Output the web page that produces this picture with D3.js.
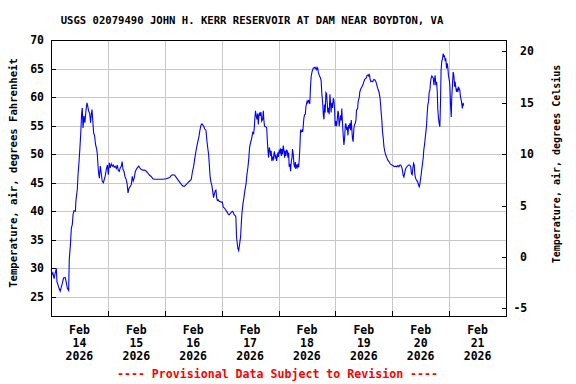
<!DOCTYPE html>
<html><head><meta charset="utf-8">
<script src="https://cdn.jsdelivr.net/npm/d3@7"></script>
<style>
body{margin:0;background:#fff}
svg{display:block}
text{font-family:"DejaVu Sans Mono","Liberation Mono",monospace;font-weight:bold;fill:#000}
</style>
</head><body><svg id="c" width="576" height="384"></svg>
<script>
const title = "USGS 02079490 JOHN H. KERR RESERVOIR AT DAM NEAR BOYDTON, VA";
const yLabelLeft = "Temperature, air, degrees Fahrenheit";
const yLabelRight = "Temperature, air, degrees Celsius";
const footnote = "---- Provisional Data Subject to Revision ----";
const monthLabel = "Feb";
const yearLabel = "2026";
const dayLabels = ["14","15","16","17","18","19","20","21"];
const fTicks = [25,30,35,40,45,50,55,60,65,70];
const cTicks = [-5,0,5,10,15,20];

// [hours since 2026-02-14 00:00, temperature °F]
const day1 = [[0.1,29.8],[0.4,28.9],[0.8,29.2],[1.3,28.2],[1.8,29.2],[2.25,30.0],[2.5,27.7],[2.95,27.1],[3.4,26.5],[3.9,26.0],[4.4,26.8],[4.8,27.4],[5.3,28.3],[6.0,28.4],[6.5,27.4],[6.9,26.5],[7.45,26.1],[7.7,31.5],[8.2,34.2],[8.6,37.1],[9.0,37.7],[9.3,39.4],[9.7,40.1],[10.3,40.0],[10.5,41.8],[11.1,43.8],[11.4,46.4],[11.8,48.5],[12.2,51.1],[12.6,54.0],[12.9,57.0],[13.2,58.1],[13.5,54.6],[13.9,56.7],[14.3,55.5],[14.8,57.8],[15.2,59.0],[15.5,58.4],[15.9,57.5],[16.3,57.2],[16.7,55.5],[17.0,57.0],[17.3,57.8],[17.7,55.5],[18.0,53.7],[18.4,53.2],[18.8,51.7],[19.3,50.8],[19.5,50.2],[20.0,47.0],[20.4,45.8],[20.8,47.9],[21.2,46.7],[21.6,45.3],[22.1,45.0],[22.5,45.6],[22.9,46.2],[23.3,47.3],[23.8,48.1]];
const day2 = [[24.2,46.4],[24.6,48.5],[25.0,47.6],[25.45,48.3],[25.9,47.9],[26.3,48.1],[26.7,47.7],[27.1,47.9],[27.6,47.5],[28.0,48.1],[28.4,47.1],[28.8,47.0],[29.2,47.6],[29.7,47.9],[30.0,48.7],[30.4,47.3],[30.8,47.0],[31.2,46.1],[31.6,45.7],[32.1,44.9],[32.5,43.2],[32.9,44.0],[33.5,44.4],[33.9,44.7],[34.3,46.1],[34.7,45.3],[35.1,45.8],[35.6,47.0],[36.0,47.3],[36.4,47.6],[37.0,47.9],[37.5,47.6],[38.1,47.3],[38.8,47.2],[39.5,47.2],[40.2,47.0],[40.9,46.7],[41.6,46.3],[42.3,46.1],[43.0,45.7],[43.7,45.6],[45.1,45.6],[47.2,45.6]];
const day3 = [[48.6,45.7],[50.1,45.9],[50.8,46.3],[51.5,46.4],[52.2,46.3],[52.9,45.9],[53.6,45.5],[54.3,45.1],[55.0,44.7],[55.7,44.4],[56.4,44.4],[57.1,44.7],[57.8,45.0],[58.5,45.3],[59.2,45.6],[59.6,46.7],[60.2,47.9],[60.6,49.1],[61.2,50.6],[61.6,51.5],[62.0,52.3],[62.4,53.0],[62.8,54.1],[63.3,55.1],[63.7,55.3],[64.1,55.1],[64.5,54.8],[64.9,54.4],[65.4,54.2],[65.8,52.3],[66.2,50.9],[66.5,50.0],[66.8,48.3],[67.1,46.2],[67.5,45.1],[67.9,44.5],[68.3,43.3],[68.6,42.4],[68.9,43.0],[69.3,43.6],[69.6,43.7],[69.9,42.4],[70.2,41.9],[70.6,42.0],[71.0,41.7],[71.4,41.7],[71.8,41.6]];
const day4 = [[72.3,41.6],[72.7,40.7],[73.1,40.6],[73.5,40.4],[73.9,40.1],[74.4,39.8],[74.8,39.5],[75.2,39.4],[75.6,39.6],[76.1,39.8],[76.5,40.0],[76.9,39.8],[77.3,39.4],[77.8,39.2],[78.0,39.0],[78.3,35.5],[78.6,34.3],[78.9,33.4],[79.2,33.1],[79.4,33.7],[79.7,34.6],[80.0,35.5],[80.3,37.8],[80.6,39.8],[81.0,41.3],[81.4,42.4],[81.8,43.6],[82.3,44.8],[82.7,46.5],[83.1,47.7],[83.5,49.4],[83.8,51.2],[84.2,52.0],[84.6,52.6],[85.1,53.8],[85.5,53.6],[85.8,54.7],[86.0,56.1],[86.3,57.6],[86.6,56.7],[86.9,56.1],[87.2,57.1],[87.5,55.2],[87.7,56.7],[88.0,57.3],[88.3,56.7],[88.6,57.4],[88.9,55.8],[89.3,56.1],[89.6,57.6],[89.8,56.1],[90.1,54.9],[90.5,54.8],[91.0,54.7],[91.3,52.3],[91.5,50.9],[91.8,49.4],[92.1,51.2],[92.4,50.6],[92.7,49.7],[92.9,50.6],[93.2,48.8],[93.5,49.4],[93.8,49.1],[94.1,50.1],[94.3,50.5],[94.6,49.4],[94.9,49.7],[95.2,48.8],[95.5,49.7],[95.8,50.3]];
const day5 = [[96.0,49.5],[96.3,50.6],[96.6,50.3],[96.9,51.0],[97.2,49.7],[97.4,50.9],[97.7,50.0],[98.0,51.5],[98.3,50.7],[98.6,49.4],[98.8,50.6],[99.1,49.7],[99.4,50.7],[99.7,50.6],[100.0,49.4],[100.3,50.3],[100.5,47.8],[100.8,48.3],[101.1,47.0],[101.4,48.8],[101.7,49.4],[101.9,50.9],[102.2,50.1],[102.5,48.3],[102.8,47.7],[103.1,48.6],[103.3,47.4],[103.6,48.0],[103.9,47.7],[104.2,48.3],[104.5,47.7],[104.7,48.8],[105.0,51.0],[105.3,54.1],[105.6,53.9],[105.9,54.2],[106.2,53.9],[106.4,54.7],[106.7,56.3],[107.0,56.9],[107.3,57.0],[107.6,58.4],[107.8,58.8],[108.1,59.3],[108.4,59.0],[108.7,59.4],[109.0,59.3],[109.2,58.8],[109.5,61.7],[109.8,63.7],[110.2,64.5],[110.6,65.0],[111.1,65.2],[111.5,65.0],[111.8,65.2],[112.1,64.8],[112.5,65.1],[112.9,64.2],[113.3,63.7],[113.7,63.4],[114.0,62.8],[114.3,60.5],[114.6,59.3],[114.9,57.0],[115.2,56.1],[115.4,58.7],[115.7,57.3],[116.0,60.8],[116.3,60.6],[116.6,58.7],[116.8,57.3],[117.1,58.1],[117.4,57.0],[117.7,60.5],[118.0,58.7],[118.2,57.3],[118.5,59.0],[118.8,58.1],[119.1,59.8],[119.4,59.4],[119.7,57.6]];
const day6 = [[119.9,54.9],[120.2,55.8],[120.5,54.9],[120.8,56.1],[121.1,57.6],[121.3,57.3],[121.6,54.9],[122.2,56.8],[122.5,55.9],[122.7,58.0],[123.0,55.4],[123.3,53.3],[123.6,51.6],[123.9,52.8],[124.2,55.1],[124.4,55.4],[124.7,54.5],[125.0,54.8],[125.3,53.3],[125.6,55.1],[125.8,54.5],[126.1,55.4],[126.4,54.2],[126.7,56.0],[127.0,54.0],[127.2,52.8],[127.5,52.2],[127.8,54.5],[128.1,55.2],[128.4,55.4],[128.7,56.0],[128.9,57.7],[129.4,58.0],[129.6,59.2],[130.1,60.0],[130.3,60.9],[130.8,61.5],[131.2,61.8],[131.6,62.1],[132.0,62.7],[132.4,63.1],[132.9,63.3],[133.1,63.4],[133.4,63.8],[133.9,63.9],[134.1,63.7],[134.4,63.9],[134.7,63.0],[135.0,62.7],[135.4,62.8],[135.8,62.7],[136.2,63.1],[136.7,63.0],[137.1,62.7],[137.5,62.1],[137.9,61.5],[138.4,60.9],[138.8,60.0],[139.1,58.6],[139.3,57.4],[139.6,56.0],[139.9,53.9],[140.2,52.8],[140.5,51.3],[140.9,50.4],[141.3,49.8],[141.7,49.4],[142.1,49.0],[142.6,48.7],[143.0,48.4],[143.4,48.2],[143.8,48.1]];
const day7 = [[144.3,48.0],[144.7,47.9],[145.1,47.8],[145.5,47.9],[145.9,47.8],[146.4,48.0],[146.8,47.8],[147.2,48.1],[147.6,48.1],[148.1,47.6],[148.3,47.2],[148.6,46.3],[148.9,46.0],[149.2,46.6],[149.5,47.2],[149.7,47.5],[150.2,47.8],[150.6,48.0],[151.0,48.1],[151.4,48.1],[151.8,47.8],[152.1,46.6],[152.4,46.4],[152.7,47.5],[153.0,48.4],[153.3,48.1],[153.5,46.6],[153.8,45.8],[154.2,45.5],[154.7,45.2],[155.1,44.6],[155.4,44.3],[155.6,44.6],[155.9,45.5],[156.2,46.4],[156.5,47.5],[156.8,48.4],[157.1,49.5],[157.3,50.7],[157.6,51.6],[157.9,52.8],[158.2,53.9],[158.5,55.1],[158.7,56.8],[159.0,58.6],[159.3,59.2],[159.6,60.9],[159.9,61.2],[160.1,62.4],[160.4,63.3],[160.7,63.7],[161.0,63.5],[161.3,63.3],[161.6,62.1],[161.8,63.0],[162.1,63.8],[162.4,62.1],[162.7,62.7],[163.0,60.9],[163.2,58.0],[163.5,56.3],[163.8,55.4],[164.1,54.8],[164.4,59.8],[164.6,64.7],[164.9,66.3],[165.2,66.7],[165.5,67.6],[165.8,67.0],[166.0,67.3],[166.3,66.5],[166.6,66.8],[166.9,65.0],[167.2,65.9],[167.5,65.0],[167.7,63.8]];
const day8 = [[168.0,63.2],[168.3,62.1],[168.6,58.6],[168.9,56.5],[169.1,59.8],[169.4,62.1],[169.7,64.4],[170.0,63.8],[170.3,61.8],[170.5,62.7],[170.8,61.8],[171.1,60.9],[171.4,61.5],[171.7,60.9],[171.9,61.8],[172.2,61.5],[172.5,61.2],[172.8,60.0],[173.1,59.5],[173.4,58.6],[173.6,58.0],[173.9,59.0],[174.1,58.5]];

const observations = [].concat(day1, day2, day3, day4, day5, day6, day7, day8);

const W = 576, H = 384;
const plot = {left: 51, right: 506, top: 40, bottom: 316};
const t0 = Date.UTC(2026, 1, 14);
const HOUR = 3600000;

const svg = d3.select("#c");
svg.append("rect").attr("width", W).attr("height", H).attr("fill", "#fff");

const x = d3.scaleUtc().domain([new Date(t0), new Date(t0 + 192 * HOUR)]).range([plot.left, plot.right]);
const y = d3.scaleLinear().domain([21.65, 70]).range([plot.bottom, plot.top]);
const yC = d3.scaleLinear().domain([(21.65 - 32) / 1.8, (70 - 32) / 1.8]).range([plot.bottom, plot.top]);

const dayBounds = d3.range(1, 8).map(d => new Date(t0 + d * 24 * HOUR));
const dayCenters = dayLabels.map((_, i) => new Date(t0 + (i * 24 + 12) * HOUR));

// grid
const grid = svg.append("g").attr("stroke", "#c8c8c8").attr("stroke-width", 1).attr("shape-rendering", "crispEdges");
grid.selectAll(".h").data(fTicks.filter(v => v < 70)).join("line")
  .attr("x1", plot.left).attr("x2", plot.right)
  .attr("y1", d => Math.round(y(d)) + 0.5).attr("y2", d => Math.round(y(d)) + 0.5);
grid.selectAll(".v").data(dayBounds).join("line")
  .attr("y1", plot.top).attr("y2", plot.bottom)
  .attr("x1", d => Math.round(x(d)) + 0.5).attr("x2", d => Math.round(x(d)) + 0.5);

// data line
const line = d3.line().x(d => x(new Date(t0 + d[0] * HOUR))).y(d => y(d[1]));
svg.append("path").datum(observations)
  .attr("d", line).attr("fill", "none").attr("stroke", "#0000ff").attr("stroke-width", 1.1);

// frame
svg.append("rect").attr("x", plot.left + 0.5).attr("y", plot.top + 0.5)
  .attr("width", plot.right - plot.left).attr("height", plot.bottom - plot.top)
  .attr("fill", "none").attr("stroke", "#000").attr("stroke-width", 1).attr("shape-rendering", "crispEdges");

// ticks (inward)
const ticks = svg.append("g").attr("stroke", "#000").attr("shape-rendering", "crispEdges");
ticks.selectAll(".lt").data(fTicks).join("line")
  .attr("x1", plot.left).attr("x2", plot.left + 5)
  .attr("y1", d => Math.round(y(d)) + 0.5).attr("y2", d => Math.round(y(d)) + 0.5);
ticks.selectAll(".rt").data(cTicks).join("line")
  .attr("x1", plot.right - 4).attr("x2", plot.right)
  .attr("y1", d => Math.round(yC(d)) + 0.5).attr("y2", d => Math.round(yC(d)) + 0.5);
ticks.selectAll(".bt").data(dayBounds).join("line")
  .attr("y1", plot.bottom - 5).attr("y2", plot.bottom)
  .attr("x1", d => Math.round(x(d)) + 0.5).attr("x2", d => Math.round(x(d)) + 0.5);

// tick labels
svg.append("g").selectAll("text").data(fTicks).join("text")
  .attr("x", 44).attr("y", d => y(d)).attr("dy", "0.35em")
  .attr("text-anchor", "end").attr("font-size", 11.5).text(d => d);
svg.append("g").selectAll("text").data(cTicks).join("text")
  .attr("x", d => d < 0 ? 513.4 : 520).attr("y", d => yC(d)).attr("dy", "0.35em")
  .attr("text-anchor", "start").attr("font-size", 11.5).text(d => d < 0 ? "-" + Math.abs(d) : d);

const xl = svg.append("g").selectAll("g").data(dayCenters).join("g");
xl.append("text").attr("x", d => x(d)).attr("y", 334).attr("text-anchor", "middle").attr("font-size", 11.5).text(monthLabel);
xl.append("text").attr("x", d => x(d)).attr("y", 347).attr("text-anchor", "middle").attr("font-size", 11.5).text((d, i) => dayLabels[i]);
xl.append("text").attr("x", d => x(d)).attr("y", 360).attr("text-anchor", "middle").attr("font-size", 11.5).text(yearLabel);

// title
svg.append("text").attr("x", 252).attr("y", 24).attr("text-anchor", "middle").attr("font-size", 10.6).text(title);

// axis titles
svg.append("text").attr("transform", "translate(17,173) rotate(-90)").attr("text-anchor", "middle")
  .attr("font-size", 10.6).text(yLabelLeft);
svg.append("text").attr("transform", "translate(560,164) rotate(-90)").attr("text-anchor", "middle")
  .attr("font-size", 10).text(yLabelRight);

// footnote
svg.append("text").attr("x", 277.5).attr("y", 378).attr("text-anchor", "middle").attr("font-size", 11.6)
  .style("fill", "#ff0000").text(footnote);
</script>
</body></html>
